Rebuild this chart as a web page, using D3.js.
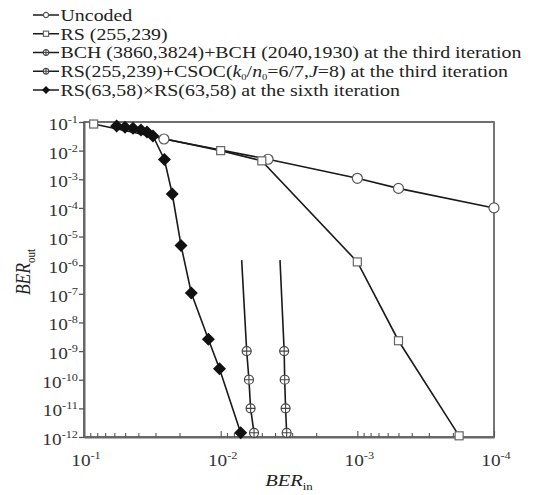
<!DOCTYPE html>
<html>
<head>
<meta charset="utf-8">
<script src="https://cdn.jsdelivr.net/npm/d3@7"></script>
<style>
  body { margin: 0; background: #fff; }
  svg { display: block; font-family: "Liberation Serif", "DejaVu Serif", serif; }
</style>
</head>
<body>
<div id="Chart"></div>
<script>
// (BER_in, BER_out)
const uncodedIn  = [0.026, 0.0045, 0.001, 0.0005, 0.0001];
const uncodedOut = [0.0255, 0.005, 0.00108, 0.00048, 0.0001];
const rsIn  = [0.085, 0.01, 0.005, 0.001, 0.0005, 0.00018];
const rsOut = [0.085, 0.01, 0.0044, 1.3e-6, 2.3e-9, 1.1e-12];
const bchIn  = [0.00368, 0.00343, 0.0034, 0.00335, 0.00329];
const bchOut = [1.5e-6, 1e-9, 1e-10, 1e-11, 1.4e-12];
const csocIn  = [0.00702, 0.00645, 0.00621, 0.00604, 0.0057];
const csocOut = [1.5e-6, 1e-9, 1e-10, 1e-11, 1.4e-12];
const prodIn  = [0.0577, 0.0501, 0.0438, 0.0383, 0.0346, 0.0313, 0.0258, 0.0226, 0.0195, 0.0164, 0.0123, 0.0102, 0.00714];
const prodOut = [0.0725, 0.0658, 0.0603, 0.0526, 0.0448, 0.0324, 0.0049, 3.06e-4, 4.9e-6, 1.07e-7, 2.6e-9, 2.4e-10, 1.4e-12];

const xDecades = [1e-1, 1e-2, 1e-3, 1e-4];
const xExps = ["-1", "-2", "-3", "-4"];
const yDecades = [1e-1, 1e-2, 1e-3, 1e-4, 1e-5, 1e-6, 1e-7, 1e-8, 1e-9, 1e-10, 1e-11, 1e-12];
const yExps = ["-1", "-2", "-3", "-4", "-5", "-6", "-7", "-8", "-9", "-10", "-11", "-12"];
const legendLabels = [
  "Uncoded",
  "RS (255,239)",
  "BCH (3860,3824)+BCH (2040,1930) at the third iteration",
  "CSOC",
  "RS(63,58)\u00d7RS(63,58) at the sixth iteration"
];

const W = 543, H = 495;
const box = {left: 84, right: 494, top: 122, bottom: 437};
const stretch = 1.17;   // the picture's text is a bit wide

const svg = d3.select("#Chart").append("svg").attr("width", W).attr("height", H);

const x = d3.scaleLog().domain([1e-1, 1e-4]).range([box.left, box.right]);
const y = d3.scaleLog().domain([1e-12, 1e-1]).range([box.bottom, box.top]);

// frame
svg.append("rect")
  .attr("x", box.left).attr("y", box.top)
  .attr("width", box.right - box.left).attr("height", box.bottom - box.top)
  .attr("fill", "none").attr("stroke", "#333").attr("stroke-width", 1.4);
svg.append("line")
  .attr("x1", box.right).attr("x2", box.right).attr("y1", box.top).attr("y2", box.bottom)
  .attr("stroke", "#777").attr("stroke-width", 1.8);

// x axis, minor ticks inward
const xMinor = [];
for (const d of xDecades.slice(0, 3)) for (let k = 9; k >= 2; k--) xMinor.push(d * k / 10);
const xAll = xDecades.concat(xMinor);
const gx = svg.append("g").attr("transform", `translate(0 ${box.bottom})`)
  .call(d3.axisBottom(x).tickValues(xAll).tickSize(-4).tickSizeOuter(0).tickFormat(""));
gx.select(".domain").attr("stroke", "#666").attr("stroke-width", 2);
gx.selectAll(".tick line").attr("stroke", "#555").attr("stroke-width", 1.1)
  .attr("y2", d => xDecades.includes(d) ? -6 : -4);
gx.selectAll(".tick text").remove();
xDecades.forEach((d, i) => {
  const t = svg.append("text")
    .attr("transform", `translate(${x(d) + 2} 466) scale(${stretch} 1)`)
    .attr("text-anchor", "middle").attr("font-size", 16.5).attr("fill", "#333");
  t.append("tspan").text("10");
  t.append("tspan").attr("font-size", 10.5).attr("dy", -7).text(xExps[i]);
});

// y axis, outward ticks
const gy = svg.append("g").attr("transform", `translate(${box.left} 0)`)
  .call(d3.axisLeft(y).tickValues(yDecades).tickSize(5).tickSizeOuter(0).tickFormat(""));
gy.select(".domain").attr("stroke", "#666").attr("stroke-width", 2);
gy.selectAll(".tick line").attr("stroke", "#555").attr("stroke-width", 1.3);
gy.selectAll(".tick text").remove();
yDecades.forEach((d, i) => {
  const t = svg.append("text")
    .attr("transform", `translate(${box.left - 6} ${y(d) + 8}) scale(${stretch} 1)`)
    .attr("text-anchor", "end").attr("font-size", 16.5).attr("fill", "#333");
  t.append("tspan").text("10");
  t.append("tspan").attr("font-size", 10.5).attr("dy", -7).text(yExps[i]);
});

// axis titles
const tIn = svg.append("text")
  .attr("transform", `translate(289 486) scale(${stretch} 1)`)
  .attr("text-anchor", "middle").attr("font-size", 17.5).attr("fill", "#222");
tIn.append("tspan").attr("font-style", "italic").text("BER");
tIn.append("tspan").attr("font-size", 11).attr("dy", 4).text("in");

const tOut = svg.append("text")
  .attr("transform", `translate(30 272) rotate(-90) scale(1 ${stretch})`)
  .attr("text-anchor", "middle").attr("font-size", 17.5).attr("fill", "#222");
tOut.append("tspan").attr("font-style", "italic").text("BER");
tOut.append("tspan").attr("font-size", 11).attr("dy", 4).text("out");

// markers
function marker(g, kind, r) {
  if (kind === "circle") {
    g.append("circle").attr("r", r).attr("fill", "#fff").attr("stroke", "#555").attr("stroke-width", 1.2);
  } else if (kind === "square") {
    g.append("rect").attr("x", -r).attr("y", -r).attr("width", 2 * r).attr("height", 2 * r)
      .attr("fill", "#fff").attr("stroke", "#666").attr("stroke-width", 1.2);
  } else if (kind === "cross") {
    g.append("circle").attr("r", r).attr("fill", "#fff").attr("stroke", "#444").attr("stroke-width", 1.2);
    g.append("path").attr("d", `M${-r},0H${r}M0,${-r}V${r}`).attr("stroke", "#444").attr("stroke-width", 1.1);
  } else if (kind === "diamond") {
    g.append("path").attr("d", `M0,${-r}L${r},0L0,${r}L${-r},0Z`).attr("fill", "#111");
  }
}

const series = [
  {xs: uncodedIn, ys: uncodedOut, kind: "circle", r: 5, skip: 0},
  {xs: rsIn, ys: rsOut, kind: "square", r: 4, skip: 0},
  {xs: bchIn, ys: bchOut, kind: "cross", r: 4.5, skip: 1},
  {xs: csocIn, ys: csocOut, kind: "cross", r: 4.5, skip: 1},
  {xs: prodIn, ys: prodOut, kind: "diamond", r: 6.5, skip: 0}
];

const line = d3.line().x(d => x(d[0])).y(d => y(d[1]));
for (const s of series) {
  const pts = s.xs.map((v, i) => [v, s.ys[i]]);
  svg.append("path").attr("d", line(pts))
    .attr("fill", "none").attr("stroke", "#1a1a1a").attr("stroke-width", 1.6);
}
for (const s of series) {
  const pts = s.xs.map((v, i) => [v, s.ys[i]]).slice(s.skip);
  svg.append("g").selectAll("g").data(pts).join("g")
    .attr("transform", d => `translate(${x(d[0])} ${y(d[1])})`)
    .each(function() { marker(d3.select(this), s.kind, s.r); });
}

// legend
const legendR = [2.6, 2.6, 2.8, 2.8, 4];
series.forEach((s, i) => {
  const ly = 15 + i * 18.75;
  const g = svg.append("g").attr("transform", `translate(0 ${ly})`);
  g.append("line").attr("x1", 33).attr("x2", 59).attr("stroke", "#1a1a1a").attr("stroke-width", 1.5);
  marker(g.append("g").attr("transform", "translate(46 0)"), s.kind, legendR[i]);
  const t = g.append("text")
    .attr("transform", `translate(60.5 5.8) scale(${stretch} 1)`)
    .attr("font-size", 17).attr("fill", "#222");
  if (i === 3) {
    t.append("tspan").text("RS(255,239)+CSOC(");
    t.append("tspan").attr("font-style", "italic").text("k");
    t.append("tspan").attr("font-size", 9).attr("dy", 3).text("0");
    t.append("tspan").attr("dy", -3).text("/");
    t.append("tspan").attr("font-style", "italic").text("n");
    t.append("tspan").attr("font-size", 9).attr("dy", 3).text("0");
    t.append("tspan").attr("dy", -3).text("=6/7,");
    t.append("tspan").attr("font-style", "italic").text("J");
    t.append("tspan").text("=8) at the third iteration");
  } else {
    t.text(legendLabels[i]);
  }
});
</script>
</body>
</html>
